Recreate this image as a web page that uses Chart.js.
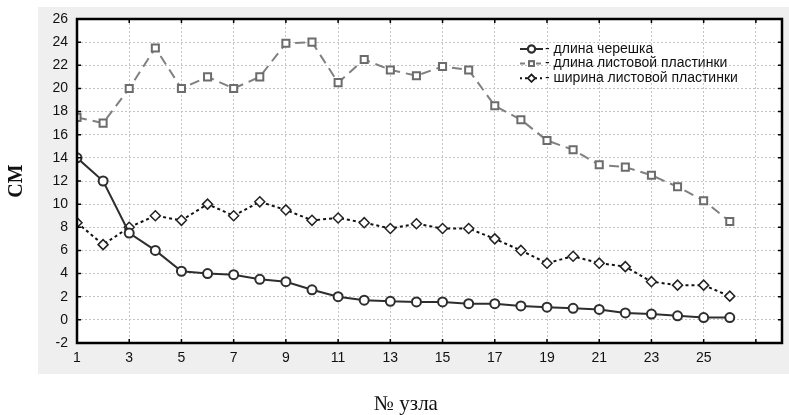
<!DOCTYPE html>
<html>
<head>
<meta charset="utf-8">
<script src="https://cdn.jsdelivr.net/npm/chart.js@4/dist/chart.umd.min.js"></script>
<style>
  html, body { margin: 0; padding: 0; background: #fff; }
</style>
</head>
<body>
<canvas id="myChart" width="789" height="415"></canvas>
<script>
const nodes = [1, 2, 3, 4, 5, 6, 7, 8, 9, 10, 11, 12, 13, 14, 15, 16, 17, 18, 19, 20, 21, 22, 23, 24, 25, 26];
const petioleLength = [14.0, 12.0, 7.5, 6.0, 4.2, 4.0, 3.9, 3.5, 3.3, 2.6, 2.0, 1.7, 1.6, 1.55, 1.55, 1.4, 1.4, 1.2, 1.1, 1.0, 0.9, 0.6, 0.5, 0.35, 0.2, 0.2];
const bladeLength = [17.5, 17.0, 20.0, 23.5, 20.0, 21.0, 20.0, 21.0, 23.9, 24.0, 20.5, 22.5, 21.6, 21.1, 21.9, 21.6, 18.5, 17.3, 15.5, 14.7, 13.4, 13.2, 12.5, 11.5, 10.3, 8.5];
const bladeWidth = [8.4, 6.5, 8.0, 9.0, 8.6, 10.0, 9.0, 10.2, 9.5, 8.6, 8.8, 8.4, 7.9, 8.3, 7.9, 7.9, 7.0, 6.0, 4.9, 5.5, 4.9, 4.6, 3.3, 3.0, 3.0, 2.05];
const seriesNames = ['- длина черешка', '- длина листовой пластинки', '- ширина листовой пластинки'];
const xTickValues = [1, 3, 5, 7, 9, 11, 13, 15, 17, 19, 21, 23, 25, 27];
const xTickLabels = ['1', '3', '5', '7', '9', '11', '13', '15', '17', '19', '21', '23', '25', ''];
const xTitle = '№ узла';
const yTitle = 'СМ';

const tickFont = { family: 'Liberation Sans', size: 14 };

function points(values) {
    return nodes.map((n, i) => ({ x: n, y: values[i] }));
}

const panelPlugin = {
    id: 'panel',
    beforeDraw(chart) {
        const { ctx, chartArea } = chart;
        ctx.save();
        ctx.fillStyle = '#fff';
        ctx.fillRect(0, 0, chart.width, chart.height);
        ctx.fillStyle = '#efefef';
        ctx.fillRect(38, 7, chart.width - 38, 367);
        ctx.fillStyle = '#fff';
        ctx.fillRect(chartArea.left, chartArea.top, chartArea.right - chartArea.left, chartArea.bottom - chartArea.top);
        ctx.restore();
    },
    afterDraw(chart) {
        const { ctx, chartArea, scales } = chart;
        ctx.save();
        // frame and inner ticks
        ctx.strokeStyle = '#000';
        ctx.lineWidth = 2.5;
        ctx.strokeRect(chartArea.left, chartArea.top, chartArea.right - chartArea.left, chartArea.bottom - chartArea.top);
        ctx.lineWidth = 1.5;
        ctx.beginPath();
        xTickValues.forEach(v => {
            const px = scales.x.getPixelForValue(v);
            ctx.moveTo(px, chartArea.bottom); ctx.lineTo(px, chartArea.bottom - 4);
            ctx.moveTo(px, chartArea.top); ctx.lineTo(px, chartArea.top + 4);
        });
        scales.y.ticks.forEach(t => {
            const py = scales.y.getPixelForValue(t.value);
            ctx.moveTo(chartArea.left, py); ctx.lineTo(chartArea.left + 4, py);
            ctx.moveTo(chartArea.right, py); ctx.lineTo(chartArea.right - 4, py);
        });
        ctx.stroke();

        // legend
        chart.data.datasets.forEach((ds, i) => {
            const y = 49 + i * 14.6;
            ctx.strokeStyle = ds.borderColor;
            ctx.lineWidth = 2;
            ctx.setLineDash(ds.legendDash);
            ctx.beginPath();
            ctx.moveTo(520, y);
            ctx.lineTo(543, y);
            ctx.stroke();
            ctx.setLineDash([]);
            Chart.helpers.drawPoint(ctx, {
                pointStyle: ds.pointStyle,
                radius: 3.5,
                rotation: 0,
                borderWidth: ds.pointBorderWidth
            }, 531.5, y);
            ctx.fillStyle = '#fff';
            ctx.strokeStyle = ds.pointBorderColor;
            ctx.lineWidth = ds.pointBorderWidth;
            ctx.fill();
            ctx.stroke();
            ctx.fillStyle = '#111';
            ctx.font = '14px "Liberation Sans"';
            ctx.textBaseline = 'middle';
            ctx.textAlign = 'left';
            ctx.fillText(ds.label, 545, y);
        });

        // x axis title
        ctx.fillStyle = '#111';
        ctx.font = '21px "Liberation Serif"';
        ctx.textAlign = 'center';
        ctx.textBaseline = 'middle';
        ctx.fillText(xTitle, 406, 404);
        ctx.restore();
    }
};

const ctx = document.getElementById('myChart').getContext('2d');
const chart = new Chart(ctx, {
    type: 'line',
    data: {
        datasets: [
            {
                label: seriesNames[0],
                data: points(petioleLength),
                borderColor: '#2e2e2e',
                borderWidth: 2,
                legendDash: [],
                pointStyle: 'circle',
                pointRadius: 4.5,
                pointBorderWidth: 2,
                pointBorderColor: '#2e2e2e',
                pointBackgroundColor: '#fff'
            },
            {
                label: seriesNames[1],
                data: points(bladeLength),
                borderColor: '#808080',
                borderWidth: 2,
                borderDash: [10, 6],
                legendDash: [5, 3],
                pointStyle: 'rect',
                pointRadius: 5,
                pointBorderWidth: 2,
                pointBorderColor: '#6c6c6c',
                pointBackgroundColor: '#fff'
            },
            {
                label: seriesNames[2],
                data: points(bladeWidth),
                borderColor: '#111',
                borderWidth: 2,
                borderDash: [3, 3],
                legendDash: [2, 3],
                pointStyle: 'rectRot',
                pointRadius: 5,
                pointBorderWidth: 1.5,
                pointBorderColor: '#222',
                pointBackgroundColor: '#fff'
            }
        ]
    },
    options: {
        responsive: false,
        animation: false,
        devicePixelRatio: 1,
        layout: { padding: { left: 0, right: 4, top: 19, bottom: 0 } },
        plugins: {
            legend: { display: false },
            tooltip: { enabled: false }
        },
        scales: {
            x: {
                type: 'linear',
                min: 1,
                max: 28,
                afterBuildTicks: s => { s.ticks = xTickValues.map(v => ({ value: v })); },
                afterFit: s => { s.height = 72; },
                ticks: {
                    autoSkip: false,
                    maxRotation: 0,
                    padding: 7,
                    color: '#111',
                    font: tickFont,
                    callback: (v, i) => xTickLabels[i]
                },
                grid: { color: '#c4c4c4', lineWidth: 1, drawTicks: false },
                border: { display: false, dash: [2, 2] }
            },
            y: {
                min: -2,
                max: 26,
                afterFit: s => { s.width = 77; },
                ticks: {
                    stepSize: 2,
                    padding: 9,
                    color: '#111',
                    font: tickFont
                },
                grid: { color: '#c4c4c4', lineWidth: 1, drawTicks: false },
                border: { display: false, dash: [2, 2] },
                title: {
                    display: true,
                    text: yTitle,
                    color: '#111',
                    font: { family: 'Liberation Serif', size: 20, weight: 'bold' },
                    padding: { top: 5, bottom: 0 }
                }
            }
        }
    },
    plugins: [panelPlugin]
});
</script>
</body>
</html>
